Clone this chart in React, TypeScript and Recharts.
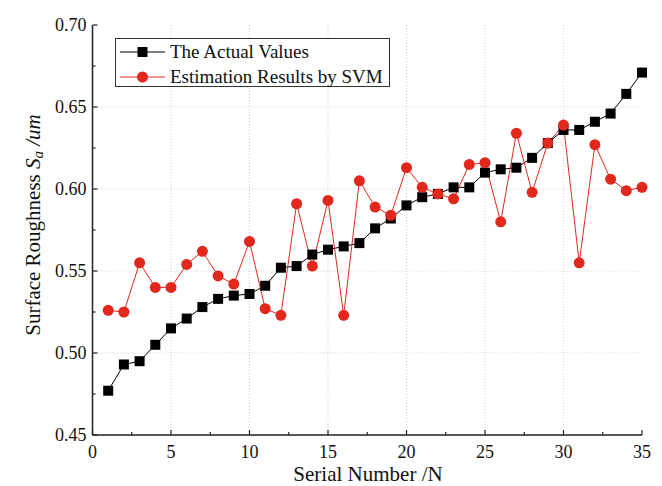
import { CartesianGrid, Line, LineChart, XAxis, YAxis } from "recharts";

const serial = [
  1, 2, 3, 4, 5, 6, 7, 8, 9, 10, 11, 12, 13, 14, 15, 16, 17, 18, 19, 20, 21,
  22, 23, 24, 25, 26, 27, 28, 29, 30, 31, 32, 33, 34, 35,
];

const actualValues = [
  0.477, 0.493, 0.495, 0.505, 0.515, 0.521, 0.528, 0.533, 0.535, 0.536, 0.541,
  0.552, 0.553, 0.56, 0.563, 0.565, 0.567, 0.576, 0.582, 0.59, 0.595, 0.597,
  0.601, 0.601, 0.61, 0.612, 0.613, 0.619, 0.628, 0.636, 0.636, 0.641, 0.646,
  0.658, 0.671,
];

const svmValues = [
  0.526, 0.525, 0.555, 0.54, 0.54, 0.554, 0.562, 0.547, 0.542, 0.568, 0.527,
  0.523, 0.591, 0.553, 0.593, 0.523, 0.605, 0.589, 0.584, 0.613, 0.601, 0.597,
  0.594, 0.615, 0.616, 0.58, 0.634, 0.598, 0.628, 0.639, 0.555, 0.627, 0.606,
  0.599, 0.601,
];

const xTicks = [0, 2.5, 5, 7.5, 10, 12.5, 15, 17.5, 20, 22.5, 25, 27.5, 30, 32.5, 35];
const xLabels = [0, 5, 10, 15, 20, 25, 30, 35];
const yTicks = [0.45, 0.475, 0.5, 0.525, 0.55, 0.575, 0.6, 0.625, 0.65, 0.675, 0.7];
const yLabels = [0.45, 0.5, 0.55, 0.6, 0.65, 0.7];

const FONT = "Liberation Serif, Times New Roman, serif";
const AXIS = "#222";
const RED = "#e2281d";

const rows = serial.map((n, i) => ({
  n,
  actual: actualValues[i],
  svm: svmValues[i],
}));

const isMajor = (list: number[], v: number) =>
  list.some((m) => Math.abs(m - v) < 1e-6);

function LeftTick({ x, y, payload }: any) {
  const major = isMajor(yLabels, payload.value);
  return (
    <g>
      <line x1={x} x2={x + (major ? 5 : 3)} y1={y} y2={y} stroke={AXIS} strokeWidth={1.2} />
      {major && (
        <text
          x={x - 6}
          y={y}
          textAnchor="end"
          dominantBaseline="central"
          style={{ fontFamily: FONT, fontSize: 18 }}
          fill="#111"
        >
          {payload.value.toFixed(2)}
        </text>
      )}
    </g>
  );
}

function RightTick({ x, y, payload }: any) {
  const major = isMajor(yLabels, payload.value);
  return (
    <line x1={x} x2={x - (major ? 5 : 3)} y1={y} y2={y} stroke={AXIS} strokeWidth={1.2} />
  );
}

function BottomTick({ x, y, payload }: any) {
  const major = isMajor(xLabels, payload.value);
  return (
    <g>
      <line x1={x} x2={x} y1={y} y2={y - (major ? 5 : 3)} stroke={AXIS} strokeWidth={1.2} />
      {major && (
        <text
          x={x}
          y={y + 16.5}
          textAnchor="middle"
          dominantBaseline="central"
          style={{ fontFamily: FONT, fontSize: 18 }}
          fill="#111"
        >
          {payload.value}
        </text>
      )}
    </g>
  );
}

function SquareDot({ cx, cy, index }: any) {
  return <rect key={`sq-${index}`} x={cx - 5} y={cy - 5} width={10} height={10} fill="#000" />;
}

function CircleDot({ cx, cy, index }: any) {
  return <circle key={`ci-${index}`} cx={cx} cy={cy} r={5.5} fill={RED} />;
}

function LegendBox() {
  const item = (label: string, color: string, square: boolean) => (
    <div style={{ display: "flex", alignItems: "center", height: 25 }}>
      <svg width={51} height={20} style={{ flex: "none" }}>
        <line x1={4} x2={49} y1={10} y2={10} stroke={color} strokeWidth={1} />
        {square ? (
          <rect x={21.5} y={5} width={10} height={10} fill="#000" />
        ) : (
          <circle cx={26.5} cy={10} r={5.5} fill={RED} />
        )}
      </svg>
      <span style={{ marginLeft: 3, whiteSpace: "nowrap" }}>{label}</span>
    </div>
  );
  return (
    <div
      style={{
        position: "absolute",
        left: 115,
        top: 38,
        width: 275,
        height: 49,
        border: "1px solid #333",
        background: "#fff",
        fontFamily: FONT,
        fontSize: 19,
        color: "#111",
        boxSizing: "border-box",
      }}
    >
      {item("The Actual Values", "#000", true)}
      {item("Estimation Results by SVM", RED, false)}
    </div>
  );
}

export default function App() {
  return (
    <div style={{ position: "absolute", left: 0, top: 0, width: 662, height: 486, background: "#fff" }}>
      <LineChart
        width={662}
        height={486}
        data={rows}
        margin={{ top: 25, right: 20, bottom: 0, left: 0 }}
      >
        <CartesianGrid
          stroke="#cfcfcf"
          strokeDasharray="1 2"
          verticalValues={[5, 10, 15, 20, 25, 30]}
          horizontalValues={[0.5, 0.55, 0.6, 0.65]}
        />
        <XAxis
          dataKey="n"
          type="number"
          domain={[0, 35]}
          ticks={xTicks}
          interval={0}
          height={51}
          tickSize={0}
          tickMargin={0}
          tickLine={false}
          axisLine={{ stroke: AXIS, strokeWidth: 1.5 }}
          tick={<BottomTick />}
          label={{
            content: () => (
              <text
                x={368}
                y={481}
                textAnchor="middle"
                style={{ fontFamily: FONT, fontSize: 21 }}
                fill="#111"
              >
                Serial Number /N
              </text>
            ),
          }}
        />
        <XAxis
          xAxisId="top"
          orientation="top"
          type="number"
          domain={[0, 35]}
          height={0}
          tick={false}
          tickLine={false}
          axisLine={{ stroke: AXIS, strokeWidth: 1.5 }}
        />
        <YAxis
          type="number"
          domain={[0.45, 0.7]}
          ticks={yTicks}
          interval={0}
          width={92.5}
          tickSize={0}
          tickMargin={0}
          tickLine={false}
          axisLine={{ stroke: AXIS, strokeWidth: 1.5 }}
          tick={<LeftTick />}
          label={{
            content: () => (
              <text
                transform="translate(33, 225) rotate(-90)"
                textAnchor="middle"
                dominantBaseline="central"
                style={{ fontFamily: FONT, fontSize: 21 }}
                fill="#111"
              >
                Surface Roughness{" "}
                <tspan fontStyle="italic">S</tspan>
                <tspan fontStyle="italic" fontSize={15} dy={5}>
                  a
                </tspan>
                <tspan dy={-5}> </tspan>
                <tspan fontStyle="italic">/um</tspan>
              </text>
            ),
          }}
        />
        <YAxis
          yAxisId="right"
          orientation="right"
          type="number"
          domain={[0.45, 0.7]}
          ticks={yTicks}
          interval={0}
          width={0}
          tickSize={0}
          tickMargin={0}
          tickLine={false}
          axisLine={{ stroke: AXIS, strokeWidth: 1.5 }}
          tick={<RightTick />}
        />
        <Line
          dataKey="actual"
          type="linear"
          stroke="#000"
          strokeWidth={1}
          dot={SquareDot}
          activeDot={false}
          isAnimationActive={false}
        />
        <Line
          dataKey="svm"
          type="linear"
          stroke={RED}
          strokeWidth={1}
          dot={CircleDot}
          activeDot={false}
          isAnimationActive={false}
        />
      </LineChart>
      <LegendBox />
    </div>
  );
}
